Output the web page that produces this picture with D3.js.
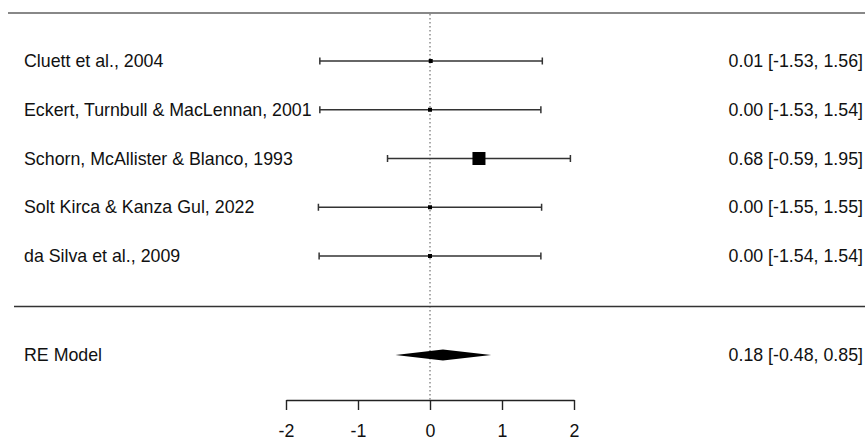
<!DOCTYPE html>
<html><head><meta charset="utf-8">
<script src="https://cdn.jsdelivr.net/npm/d3@7"></script>
<style>body{margin:0;background:#fff}svg{display:block}text{font-family:"Liberation Sans",Arial,sans-serif;font-size:17.8px;fill:#111}</style>
</head><body><svg id="c" width="865" height="444"></svg>
<script>
const studies = ["Cluett et al., 2004","Eckert, Turnbull & MacLennan, 2001","Schorn, McAllister & Blanco, 1993","Solt Kirca & Kanza Gul, 2022","da Silva et al., 2009"];
const estimates = [0.01, 0.00, 0.68, 0.00, 0.00];
const lower = [-1.53, -1.53, -0.59, -1.55, -1.54];
const upper = [1.56, 1.54, 1.95, 1.55, 1.54];
const weights = [0.6, 0.6, 13, 0.6, 0.6]; // relative marker size (px)
const reLabel = "RE Model";
const reEst = 0.18, reLow = -0.48, reUp = 0.85;
const ticks = [-2,-1,0,1,2];

const svg = d3.select("#c");
const x = d3.scaleLinear().domain([-2,2]).range([286,574]);
const y = d3.scaleLinear().domain([0,4]).range([61,256]);
const reY = 355, axisY = 400;
const f2 = d3.format(".2f");
const fmt = v => f2(v).replace("\u2212","-");

// top line
svg.append("line").attr("x1",8).attr("x2",865).attr("y1",13).attr("y2",13).attr("stroke","#888").attr("stroke-width",2);
// reference dotted line
svg.append("line").attr("x1",x(0)).attr("x2",x(0)).attr("y1",14).attr("y2",axisY)
  .attr("stroke","#555").attr("stroke-dasharray","1.5,2.5").attr("stroke-width",1);
// separator
svg.append("line").attr("x1",14).attr("x2",865).attr("y1",306.5).attr("y2",306.5).attr("stroke","#333").attr("stroke-width",1.4);

const rows = svg.append("g").selectAll("g").data(studies).join("g");
rows.append("line").attr("x1",(d,i)=>x(lower[i])).attr("x2",(d,i)=>x(upper[i]))
  .attr("y1",(d,i)=>y(i)).attr("y2",(d,i)=>y(i)).attr("stroke","#333").attr("stroke-width",1.5);
rows.append("line").attr("x1",(d,i)=>x(lower[i])).attr("x2",(d,i)=>x(lower[i]))
  .attr("y1",(d,i)=>y(i)-3.5).attr("y2",(d,i)=>y(i)+3.5).attr("stroke","#333").attr("stroke-width",1.5);
rows.append("line").attr("x1",(d,i)=>x(upper[i])).attr("x2",(d,i)=>x(upper[i]))
  .attr("y1",(d,i)=>y(i)-3.5).attr("y2",(d,i)=>y(i)+3.5).attr("stroke","#333").attr("stroke-width",1.5);
rows.append("rect").attr("x",(d,i)=>x(estimates[i])-Math.max(weights[i],4)/2)
  .attr("y",(d,i)=>y(i)-Math.max(weights[i],4)/2)
  .attr("width",(d,i)=>Math.max(weights[i],4)).attr("height",(d,i)=>Math.max(weights[i],4)).attr("fill","#000");
rows.append("text").attr("x",24).attr("y",(d,i)=>y(i)).attr("dy","0.35em").text(d=>d);
rows.append("text").attr("x",863).attr("y",(d,i)=>y(i)).attr("dy","0.35em").attr("text-anchor","end")
  .text((d,i)=>`${fmt(estimates[i])} [${fmt(lower[i])}, ${fmt(upper[i])}]`);

// RE model
svg.append("path").attr("d",`M${x(reLow)},${reY}L${x(reEst)},${reY-5.5}L${x(reUp)},${reY}L${x(reEst)},${reY+5.5}Z`).attr("fill","#000");
svg.append("text").attr("x",24).attr("y",reY).attr("dy","0.35em").text(reLabel);
svg.append("text").attr("x",863).attr("y",reY).attr("dy","0.35em").attr("text-anchor","end")
  .text(`${fmt(reEst)} [${fmt(reLow)}, ${fmt(reUp)}]`);

// axis
const ax = svg.append("g").attr("transform",`translate(0,${axisY})`)
  .call(d3.axisBottom(x).tickValues(ticks).tickFormat(v => String(v)).tickSize(10).tickPadding(14).tickSizeOuter(0));
ax.select(".domain").attr("stroke","#222").attr("stroke-width",1.4);
ax.selectAll(".tick line").attr("stroke","#222").attr("stroke-width",1.4);
ax.selectAll("text").attr("font-size",17.8).attr("font-family","Liberation Sans, Arial, sans-serif").attr("fill","#111");
</script></body></html>
